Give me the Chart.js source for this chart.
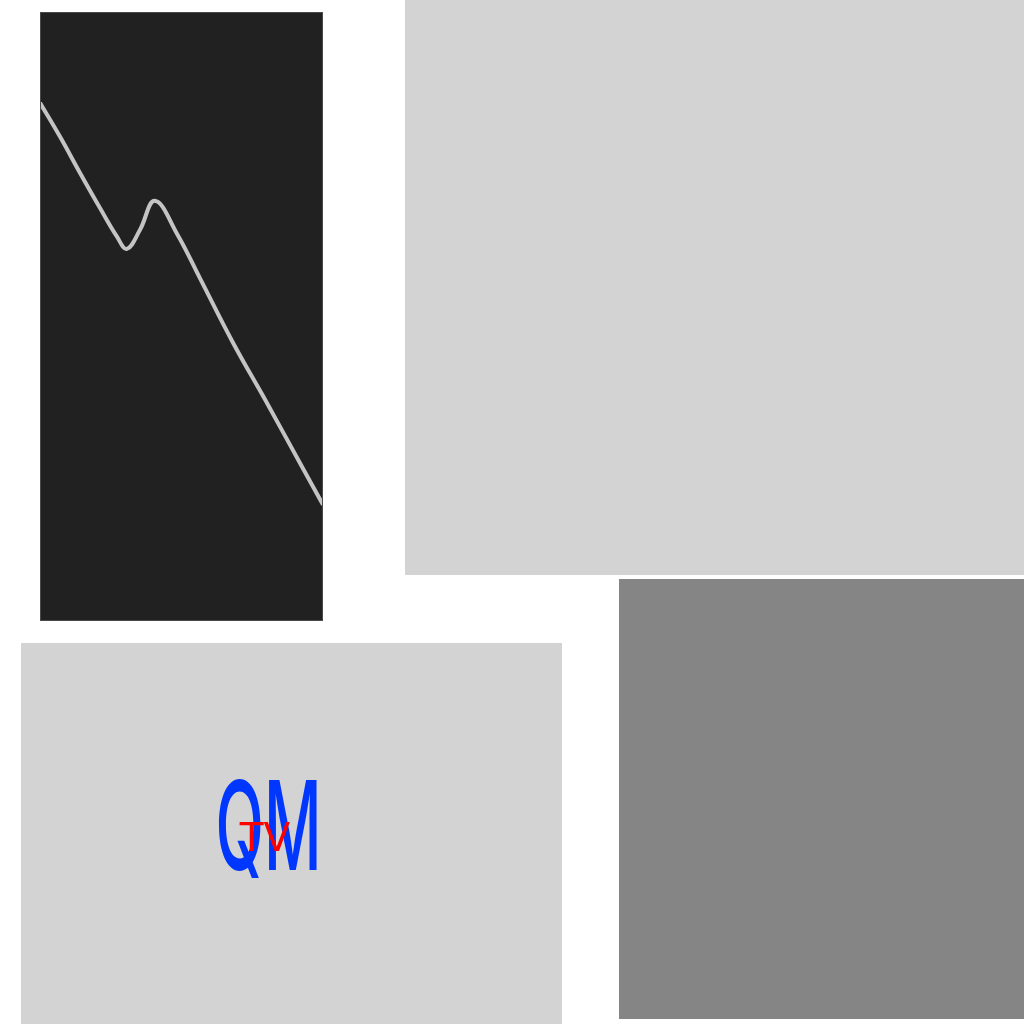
<!DOCTYPE html>
<html>
<head>
<meta charset="utf-8">
<script src="https://cdn.jsdelivr.net/npm/chart.js@4"></script>
<style>
  html, body { margin: 0; padding: 0; background: #ffffff; }
  body { width: 1024px; height: 1024px; position: relative; overflow: hidden; }
  .panel { position: absolute; }
  .panel canvas { display: block; }
</style>
</head>
<body>
<div class="panel" style="left:405px; top:0px;"><canvas id="c_top" width="619" height="575"></canvas></div>
<div class="panel" style="left:40px; top:12px;"><canvas id="c_line" width="283" height="609"></canvas></div>
<div class="panel" style="left:619px; top:579px;"><canvas id="c_grey" width="405" height="440"></canvas></div>
<div class="panel" style="left:21px; top:643px;"><canvas id="c_text" width="541" height="381"></canvas></div>
<script>
// curve in the dark panel, x and y both on a 0..100 scale
const curveX = [0, 7.1, 14.1, 21.2, 27.2, 30.7, 35.3, 40.6, 48.4, 56.5, 68.2, 80.2, 91.9, 100]
const curveY = [85.1, 79.5, 73.6, 67.8, 63.1, 61.1, 64.2, 69.0, 63.6, 56.3, 45.7, 35.8, 25.9, 19.1]

// labels in the lower left panel
const labelTexts = ['QM', 'TV']
const labelX = [45.75, 45.1]
const labelY = [40.4, 45.5]

// fills the chart area and optionally frames it
const panelBg = {
    id: 'panelBg',
    beforeDraw(chart, args, opts) {
        let {ctx, chartArea: a} = chart
        ctx.save()
        ctx.fillStyle = opts.color
        ctx.fillRect(a.left, a.top, a.right - a.left, a.bottom - a.top)
        ctx.restore()
    },
    afterDraw(chart, args, opts) {
        if (!opts.frame) {
            return
        }
        let {ctx, chartArea: a} = chart
        ctx.save()
        ctx.strokeStyle = opts.frame
        ctx.lineWidth = 1
        ctx.strokeRect(a.left + 0.5, a.top + 0.5, a.right - a.left - 1, a.bottom - a.top - 1)
        ctx.restore()
    }
}

// draws text at data coordinates
const textMarks = {
    id: 'textMarks',
    afterDatasetsDraw(chart, args, opts) {
        let {ctx, scales} = chart
        for (let m of opts.items || []) {
            ctx.save()
            ctx.font = m.font
            ctx.fillStyle = m.color
            ctx.textAlign = 'center'
            ctx.textBaseline = 'alphabetic'
            let px = scales.x.getPixelForValue(m.x)
            let py = scales.y.getPixelForValue(m.y)
            if (m.maxWidth) {
                ctx.fillText(m.text, px, py, m.maxWidth)
            } else {
                ctx.fillText(m.text, px, py)
            }
            ctx.restore()
        }
    }
}

function base_options(bg, frame, items) {
    return {
        responsive: false,
        animation: false,
        events: [],
        layout: { padding: 0 },
        scales: {
            x: { type: 'linear', min: 0, max: 100, display: false },
            y: { type: 'linear', min: 0, max: 100, display: false }
        },
        plugins: {
            legend: { display: false },
            tooltip: { enabled: false },
            panelBg: { color: bg, frame: frame },
            textMarks: { items: items || [] }
        }
    }
}

new Chart(document.getElementById('c_top'), {
    type: 'line',
    data: { datasets: [] },
    options: base_options('#d3d3d3'),
    plugins: [panelBg]
})

new Chart(document.getElementById('c_line'), {
    type: 'line',
    data: {
        datasets: [{
            data: curveX.map((x, i) => ({ x: x, y: curveY[i] })),
            borderColor: '#c4c4c4',
            borderWidth: 4,
            pointRadius: 0,
            fill: false,
            tension: 0.4
        }]
    },
    options: base_options('#212121', '#4a4a4a'),
    plugins: [panelBg]
})

new Chart(document.getElementById('c_grey'), {
    type: 'line',
    data: { datasets: [] },
    options: base_options('#858585'),
    plugins: [panelBg]
})

let labelStyles = [
    { font: '500 124px Inter', color: '#0037ff', maxWidth: 106 },
    { font: '39px "DejaVu Sans"', color: '#ff0000' }
]
new Chart(document.getElementById('c_text'), {
    type: 'line',
    data: { datasets: [] },
    options: base_options('#d3d3d3', null,
        labelTexts.map((t, i) => Object.assign({ text: t, x: labelX[i], y: labelY[i] }, labelStyles[i]))),
    plugins: [panelBg, textMarks]
})
</script>
</body>
</html>
